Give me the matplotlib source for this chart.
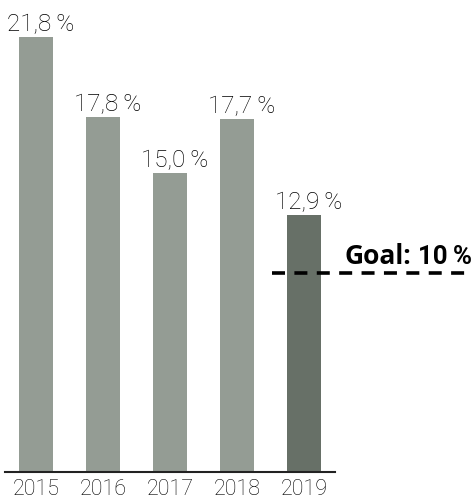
import matplotlib.pyplot as plt

# data
years = ["2015", "2016", "2017", "2018", "2019"]
values = [21.8, 17.8, 15.0, 17.7, 12.9]
labels = ["21,8\u2009%", "17,8\u2009%", "15,0\u2009%", "17,7\u2009%", "12,9\u2009%"]
goal = 10

colors = ["#949c94", "#949c94", "#949c94", "#949c94", "#677067"]

fig = plt.figure(figsize=(4.71, 5.02), dpi=100)
ax = fig.add_axes([5 / 471, 29 / 502, 330 / 471, 473 / 502])

x = list(range(len(years)))
ax.bar(x, values, width=0.507, color=colors)
ax.set_xlim(-0.463, 4.463)
ax.set_ylim(0, 23.71)

for xi, v, lab in zip(x, values, labels):
    ax.text(xi + 0.07, v + 0.1, lab, ha="center", va="bottom",
            fontsize=17.5, family="Roboto", fontweight="light", color="black")

# goal line
ax.axhline(goal, xmin=0.809, xmax=1.412, color="black", lw=2.6,
           ls=(0, (3.6, 2.6)), clip_on=False)
ax.text(1.03, goal + 0.5, "Goal:", transform=ax.get_yaxis_transform(),
        ha="left", va="baseline", fontsize=19, family="Open Sans",
        fontweight="bold", color="black")
ax.text(1.252, goal + 0.5, "10\u2009%", transform=ax.get_yaxis_transform(),
        ha="left", va="baseline", fontsize=18.5, family="Roboto",
        fontweight="bold", color="black")

for s in ["top", "right", "left"]:
    ax.spines[s].set_visible(False)
ax.spines["bottom"].set_linewidth(1.5)
ax.spines["bottom"].set_color("#222222")
ax.set_yticks([])
ax.set_xticks(x)
ax.set_xticklabels(years, fontsize=15.5, family="Roboto", fontweight="light",
                   color="black")
ax.tick_params(axis="x", length=0, pad=4)

fig.savefig("out.png", dpi=100)
